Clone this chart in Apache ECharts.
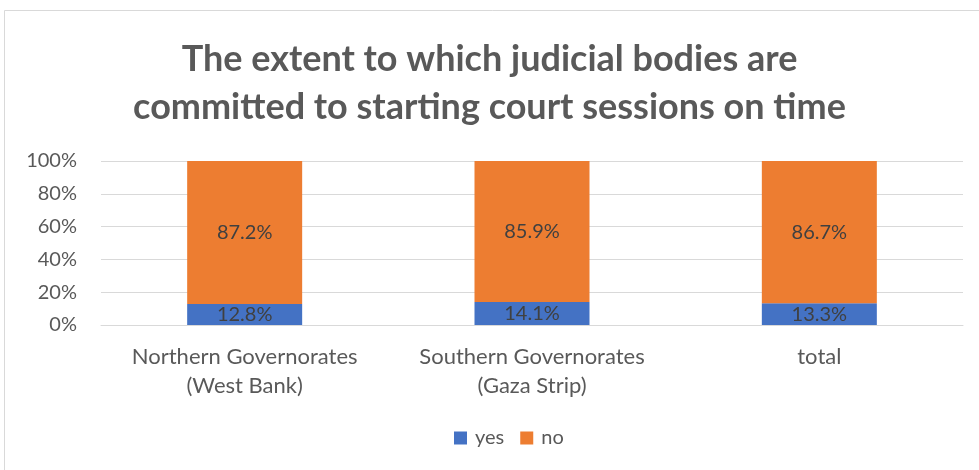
<!DOCTYPE html>
<html><head><meta charset="utf-8">
<script src="https://cdn.jsdelivr.net/npm/echarts@6/dist/echarts.min.js"></script>
<style>html,body{margin:0;padding:0;background:#fff}#c{width:979px;height:470px}</style>
</head><body><div id="c"></div>
<script>
const categories = ['Northern Governorates\n(West Bank)', 'Southern Governorates\n(Gaza Strip)', 'total'];
const yesValues = [12.8, 14.1, 13.3];
const noValues = [87.2, 85.9, 86.7];
const titleText = 'The extent to which judicial bodies are\ncommitted to starting court sessions on time';
const FONT = 'Lato';
const chart = echarts.init(document.getElementById('c'));
chart.setOption({
  animation: false,
  backgroundColor: '#fff',
  graphic: [{type:'rect', shape:{x:4.5,y:10.5,width:990,height:470}, style:{fill:'none',stroke:'#d9d9d9',lineWidth:1}, silent:true}],
  title: {text: titleText, left: 'center', top: 30,
    textStyle: {fontFamily: FONT, fontSize: 36, fontWeight: 'bold', color: '#595959', lineHeight: 48}},
  legend: {bottom: 17, left: 449, itemWidth: 13, itemHeight: 13, itemGap: 16,
    icon: 'rect', textStyle: {fontFamily: FONT, fontSize: 20, color: '#595959', padding:[0,0,0,3]},
    data: ['yes','no']},
  grid: {left: 101, right: 16, top: 161, bottom: 145},
  xAxis: {type: 'category', data: categories,
    axisLine: {show: true, lineStyle: {color: '#d9d9d9'}}, axisTick: {show: false},
    axisLabel: {interval: 0, hideOverlap: false, fontFamily: FONT, fontSize: 22, color: '#595959', margin: 17, lineHeight: 29}},
  yAxis: {type: 'value', min: 0, max: 100, interval: 20,
    axisLabel: {formatter: '{value}%', fontFamily: FONT, fontSize: 20, color: '#595959', margin: 24},
    splitLine: {lineStyle: {color: '#d9d9d9', width: 1}}, axisLine: {show:false}, axisTick:{show:false}},
  series: [
    {name: 'yes', type: 'bar', stack: 's', data: yesValues, barWidth: 115,
     itemStyle: {color: '#4472c4'},
     label: {show: true, position: 'inside', formatter: p => p.value.toFixed(1) + '%',
       fontFamily: FONT, fontSize: 20, color: '#404040'}},
    {name: 'no', type: 'bar', stack: 's', data: noValues, barWidth: 115,
     itemStyle: {color: '#ed7d31'},
     label: {show: true, position: 'inside', formatter: p => p.value.toFixed(1) + '%',
       fontFamily: FONT, fontSize: 20, color: '#404040'}}
  ]
});
</script></body></html>
